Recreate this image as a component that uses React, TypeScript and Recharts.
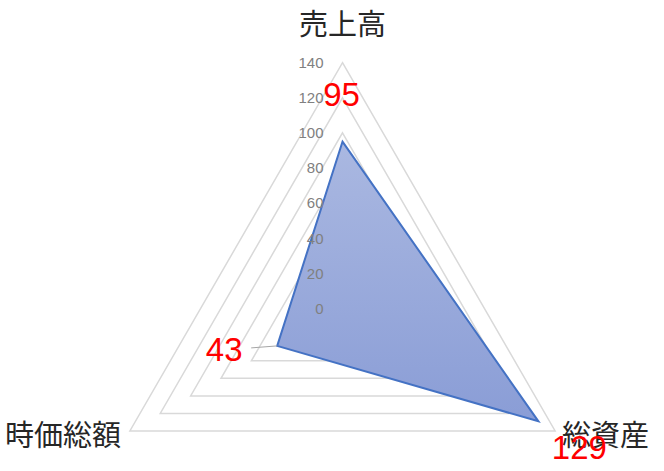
import React from "react";
import {
  RadarChart,
  Radar,
  PolarGrid,
  PolarAngleAxis,
  PolarRadiusAxis,
  LabelList,
} from "recharts";

const categories = ["売上高", "総資産", "時価総額"];
const values = [95, 129, 43];
const radiusTicks = [0, 20, 40, 60, 80, 100, 120, 140];

const data = categories.map((name, i) => ({ name, value: values[i] }));

const jpFont = "'Noto Sans CJK JP', 'Noto Sans', sans-serif";
const numFont = "'Liberation Sans', Arial, sans-serif";

const AngleTick = (props: any) => {
  const { x, y, payload, textAnchor } = props;
  let dx = 0;
  let dy = 0;
  if (textAnchor === "middle") {
    dy = -33;
  } else if (textAnchor === "start") {
    dx = 0;
    dy = -2;
  } else {
    dx = -2;
    dy = -2;
  }
  return (
    <text
      x={x + dx}
      y={y + dy}
      textAnchor={textAnchor}
      dominantBaseline="central"
      fontFamily={jpFont}
      fontSize={29}
      fill="#262626"
    >
      {payload.value}
    </text>
  );
};

const RadiusTick = (props: any) => {
  const { x, y, payload } = props;
  return (
    <text
      x={x - 19}
      y={y}
      textAnchor="end"
      dominantBaseline="central"
      fontFamily={numFont}
      fontSize={15}
      fill="#808080"
    >
      {payload.value}
    </text>
  );
};

const ValueLabel = (props: any) => {
  const { x, y, value, index } = props;
  let dx = 0;
  let dy = 0;
  let leader = false;
  if (index === 0) {
    dx = -1;
    dy = -47;
  } else if (index === 1) {
    dx = 41;
    dy = 26;
  } else {
    dx = -53;
    dy = 4;
    leader = true;
  }
  return (
    <g>
      {leader && (
        <line x1={x - 26} y1={y + 2} x2={x} y2={y} stroke="#a6a6a6" strokeWidth={1} />
      )}
      <text
        x={x + dx}
        y={y + dy}
        textAnchor="middle"
        dominantBaseline="central"
        fontFamily={numFont}
        fontSize={33}
        fill="#ff0000"
      >
        {value}
      </text>
    </g>
  );
};

const App = () => {
  return (
    <div style={{ position: "absolute", left: 0, top: 0, background: "#fff" }}>
      <RadarChart
        width={664}
        height={471}
        data={data}
        cx={342.5}
        cy={308.2}
        outerRadius={245.5}
        margin={{ top: 0, right: 0, bottom: 0, left: 0 }}
      >
        <defs>
          <linearGradient id="fillGrad" x1="0" y1="0" x2="0" y2="1">
            <stop offset="0%" stopColor="#aab8e1" />
            <stop offset="100%" stopColor="#8a9dd6" />
          </linearGradient>
        </defs>
        <PolarGrid gridType="polygon" radialLines={false} stroke="#d9d9d9" strokeWidth={1.5} />
        <PolarAngleAxis dataKey="name" tick={<AngleTick />} tickLine={false} axisLine={false} />
        <PolarRadiusAxis
          angle={90}
          domain={[0, 140]}
          ticks={radiusTicks as any}
          tickCount={8}
          axisLine={false}
          tick={<RadiusTick />}
        />
        <Radar
          dataKey="value"
          stroke="#4472c4"
          strokeWidth={2}
          fill="url(#fillGrad)"
          fillOpacity={1}
          isAnimationActive={false}
        >
          <LabelList dataKey="value" content={<ValueLabel />} />
        </Radar>
      </RadarChart>
    </div>
  );
};

export default App;
